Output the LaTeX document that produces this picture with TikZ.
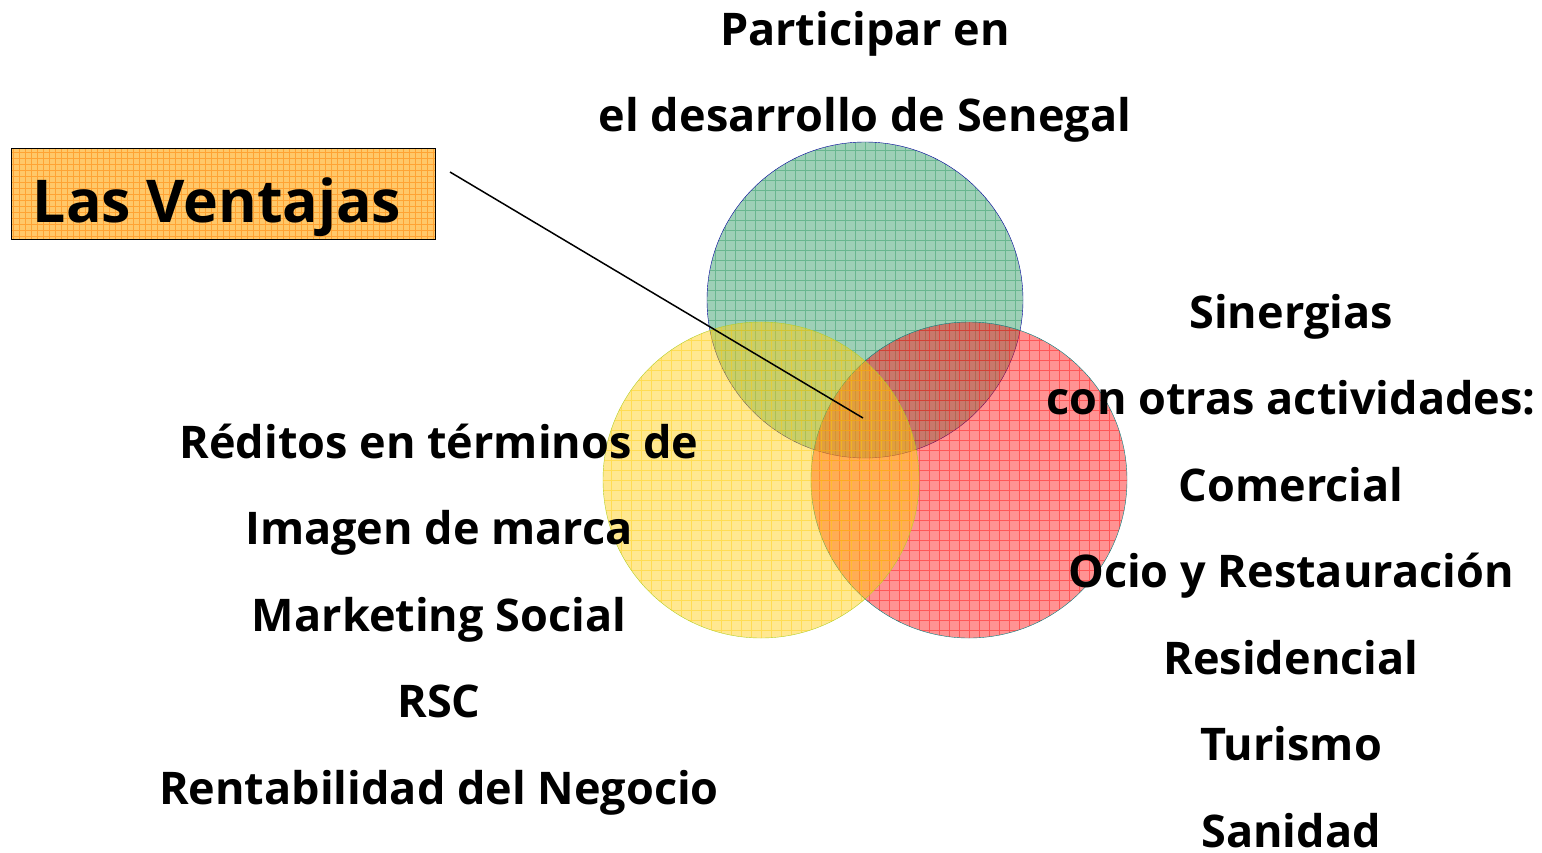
\documentclass[tikz,border=0pt]{standalone}
\usepackage{fontspec}
\setmainfont{Open Sans}
\definecolor{vgreen}{RGB}{40,150,95}
\definecolor{vyellow}{RGB}{255,205,10}
\definecolor{vred}{RGB}{255,15,15}
\definecolor{vorange}{RGB}{255,200,105}
\tikzset{
  ring/.style={circle, minimum size=316pt, inner sep=0pt, fill=#1, fill opacity=0.45,
    path picture={\draw[#1, step=10pt, line width=0.5pt, opacity=0.45]
      (path picture bounding box.south west) grid (path picture bounding box.north east);}},
  label text/.style={font=\fontsize{45}{54}\selectfont\bfseries, anchor=base, inner sep=0pt},
}

\begin{document}
\begin{tikzpicture}
[x=1pt, y=-1pt]
\useasboundingbox (0,0) rectangle (1542,852);
% circles
\node [ring=vgreen, draw=blue!60!black] (senegal) at (865,300) {};
\node [ring=vred, draw=teal] (sinergias) at (969,480) {};
\node [ring=vyellow, draw=yellow!75!green!90!black] (imagen) at (761,480) {};
% tag
\node [draw=black, line width=1pt, fill=vorange, minimum width=424pt, minimum height=91pt,
  path picture={\draw[orange, step=6pt, line width=0.4pt, opacity=0.5]
    (path picture bounding box.south west) grid (path picture bounding box.north east);}]
  (tagbox) at (223,194) {};
\node [label text, font=\fontsize{59}{68}\selectfont\bfseries] (tag) at (217,222) {Las Ventajas};
\coordinate (tail) at (450,172);
\coordinate (tip) at (863,418);
\draw [line width=1.5pt] (tail) -- (tip);
% texts
\foreach \txt [count=\i] in {Participar en, el desarrollo de Senegal}{
	\node [label text] (top \i) at (865, {-41.5+86.5*\i}) {\txt};
}
\foreach \txt [count=\i] in {Réditos en términos de, Imagen de marca, Marketing Social, RSC,
  Rentabilidad del Negocio}{
	\node [label text] (left \i) at (439, {371.5+86.5*\i}) {\txt};
}
\foreach \txt [count=\i] in {Sinergias, con otras actividades:, Comercial, Ocio y Restauración,
  Residencial, Turismo, Sanidad}{
	\node [label text] (right \i) at (1291, {241.5+86.5*\i}) {\txt};
}
\end{tikzpicture}
\end{document}
